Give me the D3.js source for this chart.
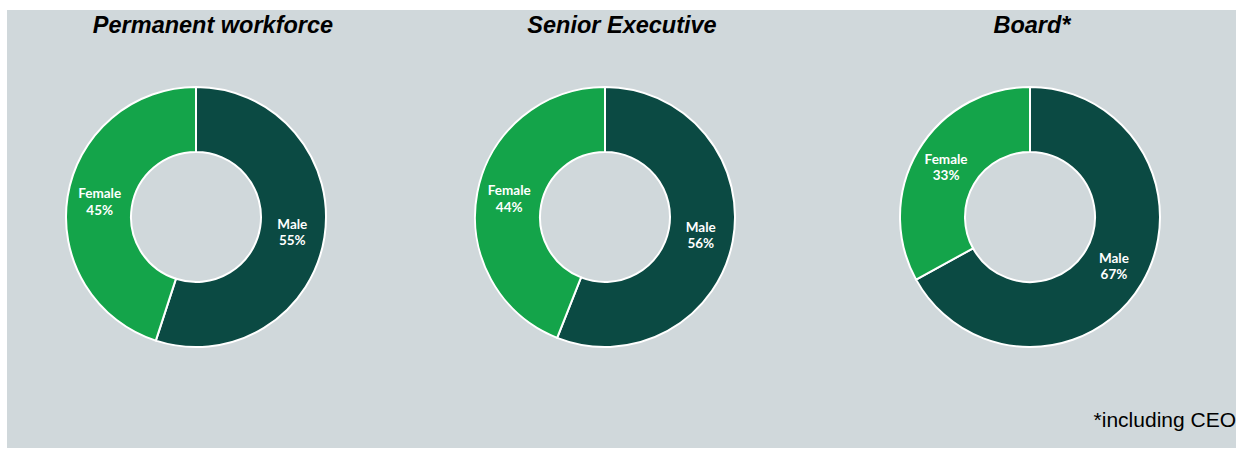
<!DOCTYPE html>
<html><head><meta charset="utf-8">
<script src="https://cdn.jsdelivr.net/npm/d3@7"></script>
<style>body{margin:0;background:#fff}svg{display:block}</style>
</head><body>
<svg id="c" width="1239" height="449"></svg>
<script>
const titles = ["Permanent workforce", "Senior Executive", "Board*"];
const categories = ["Male", "Female"];
const maleValues = [55, 56, 67];
const femaleValues = [45, 44, 33];
const footnote = "*including CEO";

const colors = {Male: "#0b4a43", Female: "#14a44a"};
const svg = d3.select("#c");
svg.append("rect").attr("x", 7).attr("y", 10).attr("width", 1229).attr("height", 438).attr("fill", "#d0d8db");

const centersX = [196, 605, 1030];
const titleX = [213, 622, 1032];
const cy = 217;
const arc = d3.arc().innerRadius(65).outerRadius(130);
const labelArc = d3.arc().innerRadius(97.5).outerRadius(97.5);
const pie = d3.pie().sort(null).value(d => d.value);

titles.forEach((t, i) => {
  svg.append("text").attr("x", titleX[i]).attr("y", 33).attr("text-anchor", "middle")
    .attr("font-family", "Liberation Sans, Arial, sans-serif").attr("font-weight", "bold")
    .attr("font-style", "italic").attr("font-size", 23.5).attr("fill", "#000").text(t);
  const data = [{name: categories[0], value: maleValues[i]}, {name: categories[1], value: femaleValues[i]}];
  const g = svg.append("g").attr("transform", `translate(${centersX[i]},${cy})`);
  const arcs = pie(data);
  g.selectAll("path").data(arcs).join("path").attr("d", arc)
    .attr("fill", d => colors[d.data.name]).attr("stroke", "#fff").attr("stroke-width", 2);
  const lab = g.selectAll("text").data(arcs).join("text")
    .attr("transform", d => `translate(${labelArc.centroid(d)})`)
    .attr("text-anchor", "middle").attr("fill", "#fff")
    .attr("font-family", "Lato, 'Open Sans', sans-serif").attr("font-weight", "bold").attr("font-size", 13.5);
  lab.append("tspan").attr("x", 0).attr("dy", "-0.25em").text(d => d.data.name);
  lab.append("tspan").attr("x", 0).attr("dy", "1.2em").text(d => d.data.value + "%");
});

svg.append("text").attr("x", 1236).attr("y", 427).attr("text-anchor", "end")
  .attr("font-family", "Liberation Sans, Arial, sans-serif").attr("font-size", 21).attr("fill", "#000").text(footnote);
</script>
</body></html>
